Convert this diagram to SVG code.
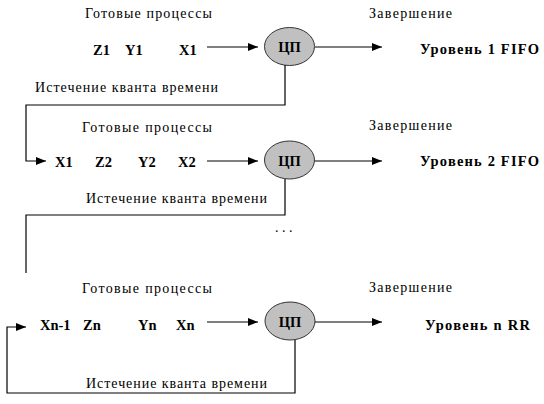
<svg xmlns="http://www.w3.org/2000/svg" width="544" height="404" viewBox="0 0 544 404">
<style>
text{font-family:'Liberation Serif','Times New Roman',Tinos,'DejaVu Serif','Noto Serif',serif;fill:#000}
.t{font-size:14px}
.b{font-size:14.5px;font-weight:bold}
.c{font-size:14.5px;font-weight:bold;text-anchor:middle}
.cpu{fill:#c0c0c0;stroke:#333;stroke-width:1}
.ln{fill:none;stroke:#000;stroke-width:1.2}
</style>
<defs>
<marker id="ah" markerWidth="10" markerHeight="8" refX="10" refY="4" orient="auto" markerUnits="userSpaceOnUse">
<path d="M0,0 L10,4 L0,8 Z" fill="#000"/>
</marker>
</defs>
<rect width="544" height="404" fill="#fff"/>

<g id="level1" font-family="Liberation Serif, serif">
<text class="t" x="85" y="18" textLength="127">Готовые процессы</text>
<text class="b" x="93" y="55">Z1</text>
<text class="b" x="125" y="55">Y1</text>
<text class="b" x="179" y="55">X1</text>
<text class="t" x="369" y="18" textLength="83">Завершение</text>
<text class="b" x="420" y="54" textLength="119">Уровень 1  FIFO</text>
<text class="t" x="35" y="92" textLength="183">Истечение кванта времени</text>
</g>
<g id="cpu1">
<ellipse class="cpu" cx="289.5" cy="46.5" rx="25" ry="19"/>
<text class="c" x="289.5" y="52">ЦП</text>
</g>

<g id="level2">
<text class="t" x="82" y="132" textLength="130">Готовые процессы</text>
<text class="b" x="55" y="167">X1</text>
<text class="b" x="95" y="167">Z2</text>
<text class="b" x="138" y="167">Y2</text>
<text class="b" x="178" y="167">X2</text>
<text class="t" x="369" y="130" textLength="83">Завершение</text>
<text class="b" x="420" y="166" textLength="119">Уровень 2  FIFO</text>
<text class="t" x="86" y="203" textLength="181">Истечение кванта времени</text>
</g>
<g id="cpu2">
<ellipse class="cpu" cx="289.5" cy="160" rx="25" ry="19"/>
<text class="c" x="289.5" y="165.5">ЦП</text>
</g>

<g id="dots">
<text class="t" x="275" y="232">. . .</text>
</g>

<g id="leveln">
<text class="t" x="82" y="293" textLength="130">Готовые процессы</text>
<text class="b" x="40" y="330">Xn-1</text>
<text class="b" x="83" y="330">Zn</text>
<text class="b" x="138" y="330">Yn</text>
<text class="b" x="176" y="330">Xn</text>
<text class="t" x="369" y="292" textLength="83">Завершение</text>
<text class="b" x="425" y="330" textLength="105">Уровень n  RR</text>
<text class="t" x="86" y="388" textLength="181">Истечение кванта времени</text>
</g>
<g id="cpun">
<ellipse class="cpu" cx="290" cy="321" rx="25" ry="19"/>
<text class="c" x="290" y="326.5">ЦП</text>
</g>

<g id="connectors">
<line class="ln" x1="207" y1="47" x2="258" y2="47" marker-end="url(#ah)"/>
<line class="ln" x1="315" y1="47" x2="382" y2="47" marker-end="url(#ah)"/>
<polyline class="ln" points="285,65 285,105 26,105 26,161 46,161" marker-end="url(#ah)"/>
<line class="ln" x1="207" y1="161" x2="258" y2="161" marker-end="url(#ah)"/>
<line class="ln" x1="315" y1="161" x2="382" y2="161" marker-end="url(#ah)"/>
<polyline class="ln" points="285,179 285,215 26,215 26,273"/>
<polyline class="ln" points="295,340 295,393 7,393 7,327 26,327" marker-end="url(#ah)"/>
<line class="ln" x1="207" y1="322" x2="258" y2="322" marker-end="url(#ah)"/>
<line class="ln" x1="315" y1="322" x2="382" y2="322" marker-end="url(#ah)"/>
</g>
</svg>
